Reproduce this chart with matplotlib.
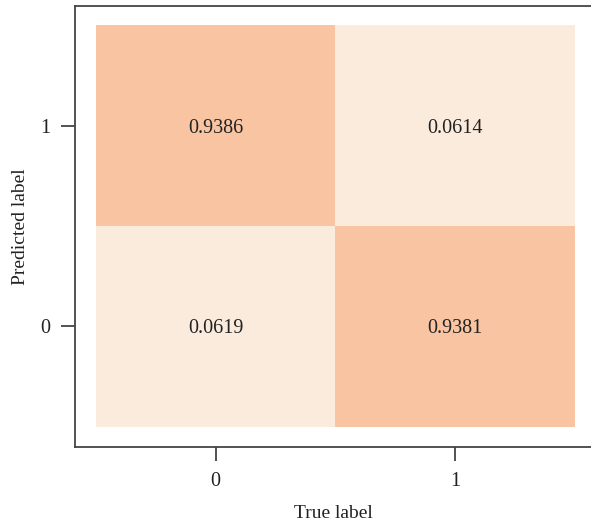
import numpy as np
import matplotlib
matplotlib.use("Agg")
import matplotlib.pyplot as plt
from matplotlib.colors import LinearSegmentedColormap

# confusion matrix values, rows = predicted label, cols = true label
true_labels = [0, 1]
pred_labels = [0, 1]
pred0 = [0.0619, 0.9381]   # predicted 0, true 0 / true 1
pred1 = [0.9386, 0.0614]   # predicted 1, true 0 / true 1

plt.rcParams['font.family'] = ['Liberation Serif', 'DejaVu Serif']

mat = np.array([pred0, pred1])
cmap = LinearSegmentedColormap.from_list("cm", ["#FAEBDC", "#F8C4A1"])

fig = plt.figure(figsize=(5.91, 5.21), dpi=100)
ax = fig.add_axes([75/591, 1 - 447/521, 1 - 75/591, (447 - 6)/521])

x = np.array(true_labels)
y = np.array(pred_labels)
ax.pcolormesh(np.append(x - 0.5, x[-1] + 0.5), np.append(y - 0.5, y[-1] + 0.5), mat,
              cmap=cmap, vmin=0.0614, vmax=0.9386, shading='flat')

for i, p in enumerate(pred_labels):
    for j, t in enumerate(true_labels):
        ax.text(t, p, "%.4f" % mat[i, j], ha='center', va='center_baseline',
                fontsize=14.5, color='#222222')

ax.set_xlim(-0.587, 1.568)
ax.set_ylim(-0.6, 1.595)
ax.set_xticks(true_labels)
ax.set_yticks(pred_labels)
ax.tick_params(labelsize=14.5, length=10, width=1.3, color='#444444', labelcolor='#222222', pad=8)
for s in ['left', 'bottom', 'top']:
    ax.spines[s].set_color('#444444')
    ax.spines[s].set_linewidth(1.3)
ax.spines['right'].set_visible(False)

ax.set_xlabel("True label", fontsize=14, color='#222222', labelpad=10)
ax.set_ylabel("Predicted label", fontsize=14, color='#222222', labelpad=8)

fig.savefig("out.png", dpi=100)
